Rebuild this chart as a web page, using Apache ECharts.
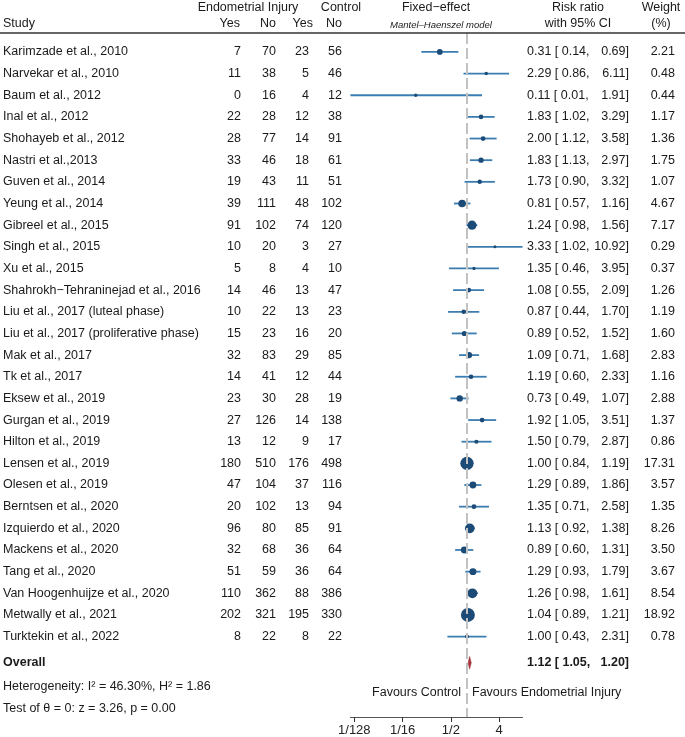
<!DOCTYPE html>
<html>
<head>
<meta charset="utf-8">
<script src="https://cdn.jsdelivr.net/npm/echarts@6/dist/echarts.min.js"></script>
<style>
html,body{margin:0;padding:0;background:#fff;}
#chart{width:685px;height:737px;}
</style>
</head>
<body>
<div id="chart"></div>
<script>
// ---------- data ----------
const studies = ["Karimzade et al., 2010", "Narvekar et al., 2010", "Baum et al., 2012", "Inal et al., 2012",
  "Shohayeb et al., 2012", "Nastri et al.,2013", "Guven et al., 2014", "Yeung et al., 2014", "Gibreel et al., 2015",
  "Singh et al., 2015", "Xu et al., 2015", "Shahrokh\u2212Tehraninejad et al., 2016", "Liu et al., 2017 (luteal phase)",
  "Liu et al., 2017 (proliferative phase)", "Mak et al., 2017", "Tk et al., 2017", "Eksew et al., 2019",
  "Gurgan et al., 2019", "Hilton et al., 2019", "Lensen et al., 2019", "Olesen et al., 2019", "Berntsen et al., 2020",
  "Izquierdo et al., 2020", "Mackens et al., 2020", "Tang et al., 2020", "Van Hoogenhuijze et al., 2020",
  "Metwally et al., 2021", "Turktekin et al., 2022"];
const eiYes = [7,11,0,22,28,33,19,39,91,10,5,14,10,15,32,14,23,27,13,180,47,20,96,32,51,110,202,8];
const eiNo  = [70,38,16,28,77,46,43,111,102,20,8,46,22,23,83,41,30,126,12,510,104,102,80,68,59,362,321,22];
const ctYes = [23,5,4,12,14,18,11,48,74,3,4,13,13,16,29,12,28,14,9,176,37,13,85,36,36,88,195,8];
const ctNo  = [56,46,12,38,91,61,51,102,120,27,10,47,23,20,85,44,19,138,17,498,116,94,91,64,64,386,330,22];
const rr = [0.31,2.29,0.11,1.83,2.00,1.83,1.73,0.81,1.24,3.33,1.35,1.08,0.87,0.89,1.09,1.19,0.73,1.92,1.50,1.00,1.29,1.35,1.13,0.89,1.29,1.26,1.04,1.00];
const lo = [0.14,0.86,0.0066,1.02,1.12,1.13,0.90,0.57,0.98,1.02,0.46,0.55,0.44,0.52,0.71,0.60,0.49,1.05,0.79,0.84,0.89,0.71,0.92,0.60,0.93,0.98,0.89,0.43];
const hi = [0.69,6.11,1.91,3.29,3.58,2.97,3.32,1.16,1.56,10.92,3.95,2.09,1.70,1.52,1.68,2.33,1.07,3.51,2.87,1.19,1.86,2.58,1.38,1.31,1.79,1.61,1.21,2.31];
const weight = [2.21,0.48,0.44,1.17,1.36,1.75,1.07,4.67,7.17,0.29,0.37,1.26,1.19,1.60,2.83,1.16,2.88,1.37,0.86,17.31,3.57,1.35,8.26,3.50,3.67,8.54,18.92,0.78];
const overallRR = 1.12, overallLo = 1.05, overallHi = 1.20;
const tickValues = [1/128, 1/16, 1/2, 4];
const tickLabels = ["1/128", "1/16", "1/2", "4"];
const hetText = "Heterogeneity: I\u00b2 = 46.30%, H\u00b2 = 1.86";
const testText = "Test of \u03b8 = 0: z = 3.26, p = 0.00";

// ---------- layout ----------
const W = 685;
const FONT = "'Liberation Sans', Arial, Helvetica, sans-serif";
const FS = 12.5;
const TXT = '#1a1a1a';
const log2 = v => Math.log(v) / Math.LN2;
const xMin = log2(Math.min(...lo)), xMax = log2(Math.max(...hi));
const pxPerUnit = 16.1, zeroX = 467;
const gridLeft = zeroX + xMin * pxPerUnit;
const gridRight = W - (zeroX + xMax * pxPerUnit);
const gridTop = 33, axisY = 720;
const rowH = 21.75, firstRowY = 52;
const yMin = -(firstRowY - gridTop) / rowH;
const yMax = yMin + (axisY - gridTop) / rowH;
const overallRow = 28.21, hetRow = 29.29, testRow = 30.34, favRow = 29.6;

const colStudy = 3, colEY = 241, colEN = 276, colCY = 309, colCN = 342;
const colRRl = 527, colRRr = 629, colW = 675;

const fmt = v => v.toFixed(2);

function txt(x, y, s, align, extra) {
  return {
    type: 'text', x: x, y: y,
    style: Object.assign({ text: s, align: align || 'left', verticalAlign: 'middle',
      fontSize: FS, fontFamily: FONT, fill: TXT }, extra || {})
  };
}

// table rows
const tableData = studies.map((s, i) => [i]);
tableData.push([overallRow]);
tableData.push([hetRow]);
tableData.push([testRow]);
tableData.push([favRow]);

function renderTable(params, api) {
  const i = params.dataIndex;
  const y = api.coord([0, api.value(0)])[1];
  const n = studies.length;
  if (i < n) {
    return { type: 'group', children: [
      txt(colStudy, y, studies[i], 'left'),
      txt(colEY, y, String(eiYes[i]), 'right'),
      txt(colEN, y, String(eiNo[i]), 'right'),
      txt(colCY, y, String(ctYes[i]), 'right'),
      txt(colCN, y, String(ctNo[i]), 'right'),
      txt(colRRl, y, fmt(rr[i]) + ' [ ' + fmt(lo[i]) + ',', 'left'),
      txt(colRRr, y, fmt(hi[i]) + ']', 'right'),
      txt(colW, y, fmt(weight[i]), 'right')
    ]};
  } else if (i === n) {
    return { type: 'group', children: [
      txt(colStudy, y, 'Overall', 'left', { fontWeight: 'bold' }),
      txt(colRRl, y, fmt(overallRR) + ' [ ' + fmt(overallLo) + ',', 'left', { fontWeight: 'bold' }),
      txt(colRRr, y, fmt(overallHi) + ']', 'right', { fontWeight: 'bold' })
    ]};
  } else if (i === n + 1) {
    return txt(colStudy, y, hetText, 'left');
  } else if (i === n + 2) {
    return txt(colStudy, y, testText, 'left');
  } else {
    const x0 = api.coord([0, 0])[0];
    return { type: 'group', children: [
      txt(x0 - 6, y, 'Favours Control', 'right'),
      txt(x0 + 5, y, 'Favours Endometrial Injury', 'left')
    ]};
  }
}

const ciData = studies.map((s, i) => [log2(lo[i]), log2(hi[i]), i]);
function renderCI(params, api) {
  const p1 = api.coord([api.value(0), api.value(2)]);
  const p2 = api.coord([api.value(1), api.value(2)]);
  return { type: 'line', shape: { x1: p1[0], y1: p1[1], x2: p2[0], y2: p2[1] },
    style: { stroke: '#3b7db1', lineWidth: 1.8 } };
}

const ptData = studies.map((s, i) => [log2(rr[i]), i, weight[i]]);

function renderDiamond(params, api) {
  const row = api.value(3);
  const a = api.coord([api.value(0), row]);
  const b = api.coord([api.value(1), row]);
  const c = api.coord([api.value(2), row]);
  const h = 6.3;
  return { type: 'polygon', shape: { points: [[a[0], a[1]], [b[0], b[1] - h], [c[0], c[1]], [b[0], b[1] + h]] },
    style: { fill: '#a5373d', stroke: '#a5373d', lineWidth: 0.6 } };
}

const tickPos = tickValues.map(log2);
const tickMap = {};
tickPos.forEach((p, k) => { tickMap[Math.round(p)] = tickLabels[k]; });

const option = {
  backgroundColor: '#fff',
  animation: false,
  grid: { left: gridLeft, right: gridRight, top: gridTop, bottom: 737 - axisY, containLabel: false },
  xAxis: {
    type: 'value', min: xMin, max: xMax, position: 'bottom',
    splitLine: { show: false },
    axisLine: { show: true, onZero: false, lineStyle: { color: '#555', width: 1 } },
    axisTick: { show: true, customValues: tickPos, length: 5, lineStyle: { color: '#333' } },
    axisLabel: { customValues: tickPos, margin: 7, fontSize: 13, fontFamily: FONT, color: '#222',
      formatter: v => tickMap[Math.round(v)] || '' }
  },
  yAxis: { type: 'value', inverse: true, min: yMin, max: yMax, show: false, axisLine: { onZero: false } },
  graphic: [
    { type: 'line', shape: { x1: 0, y1: gridTop, x2: W, y2: gridTop }, style: { stroke: '#333', lineWidth: 1.6 }, z: 10 },
    txt(248, 8, 'Endometrial Injury', 'center'),
    txt(341, 8, 'Control', 'center'),
    txt(436, 8, 'Fixed\u2212effect', 'center'),
    txt(578, 8, 'Risk ratio', 'center'),
    txt(661, 8, 'Weight', 'center'),
    txt(colStudy, 24, 'Study', 'left'),
    txt(240, 24, 'Yes', 'right'),
    txt(276, 24, 'No', 'right'),
    txt(313, 24, 'Yes', 'right'),
    txt(342, 24, 'No', 'right'),
    txt(441, 25, 'Mantel\u2013Haenszel model', 'center', { fontSize: 9.5, fontStyle: 'italic' }),
    txt(578, 24, 'with 95% CI', 'center'),
    txt(661, 24, '(%)', 'center')
  ],
  series: [
    {
      type: 'custom', renderItem: renderCI, data: ciData, clip: false, z: 3,
      markLine: {
        silent: true, symbol: 'none', label: { show: false },
        lineStyle: { color: '#c2c2c2', width: 2, type: [11, 4] },
        data: [{ xAxis: 0 }]
      }
    },
    {
      type: 'scatter', data: ptData, z: 4,
      symbol: 'circle',
      symbolSize: v => 1.5 + 2.85 * Math.sqrt(v[2]),
      itemStyle: { color: '#1c4b77', opacity: 1 }
    },
    {
      type: 'custom', renderItem: renderDiamond, z: 4,
      data: [[log2(overallLo), log2(overallRR), log2(overallHi), overallRow]]
    },
    {
      type: 'custom', renderItem: renderTable, data: tableData, clip: false, z: 5, silent: true
    }
  ]
};

const chart = echarts.init(document.getElementById('chart'), null, { renderer: 'canvas' });
chart.setOption(option);
</script>
</body>
</html>
